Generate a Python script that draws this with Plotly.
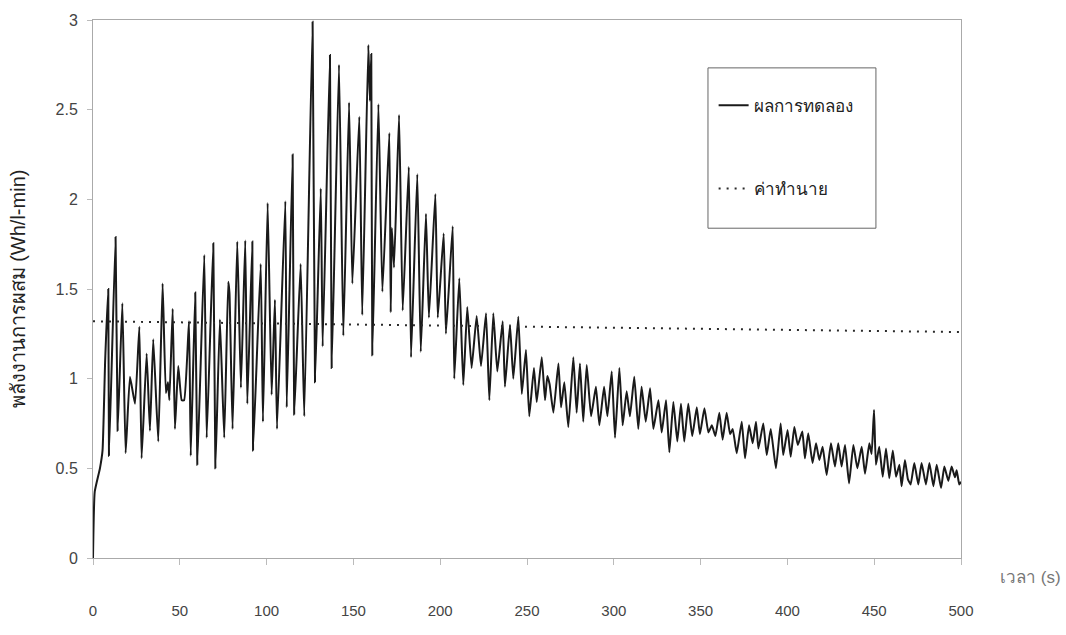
import plotly.graph_objects as go

t_exp = [0, 1, 4, 5.5, 7, 8.8, 9.2, 13, 14.2, 16.9, 18.8, 21.3, 24.2, 26.7, 28.0, 30.9, 32.8, 34.7, 37.6,
         40.1, 42.0, 43.2, 44.0, 45.9, 47.2, 49.1, 51.1, 52.5, 55.3, 56.3, 58.9, 60.1, 64.1, 65.5, 69.3, 70.5,
         73.1, 75.6, 77.9, 78.6, 80.4, 83.1, 85.2, 87.7, 88.9, 91.8, 92.2, 96.6, 97.9, 100.6, 102.9, 104.8,
         106.0, 110.8, 111.6, 115.0, 115.9, 119.6, 121.7, 126.5, 127.9, 131.2, 132.3, 136.5, 137.5, 141.7,
         144.2, 147.5, 149.4, 153.4, 155.1, 158.6, 159.5, 160.3, 160.9, 164.4, 166.7, 170.7, 171.5, 172.1,
         173.4, 176.3, 178.4, 181.9, 183.2, 186.8, 188.8, 191.8, 193.5, 197.2, 198.6, 202.0, 203.3, 207.2,
         208.1, 211.0, 213.3, 215.6, 218.1, 221.0, 223.5, 226.4, 228.3, 230.6, 232.9, 236.0, 237.3, 240.2,
         242.1, 245.0, 247.0, 249.4, 251.3, 254.0, 255.6, 258.5, 260.4, 261.7, 263.0, 265.2, 268.1, 269.6,
         271.5, 273.8, 276.7, 278.6, 280.5, 282.4, 284.4, 286.9, 289.7, 291.7, 294.4, 296.3, 298.8, 300.7,
         303.2, 305.1, 307.4, 309.3, 311.8, 314.1, 316.0, 318.4, 320.9, 322.8, 325.7, 327.6, 330.1, 332.0,
         334.3, 336.6, 338.7, 340.6, 342.9, 345.2, 347.8, 349.6, 352.2, 354.5, 356.5, 358.5, 360.8, 362.7,
         365.0, 367.0, 368.5, 370.8, 373.7, 375.6, 377.9, 380.0, 381.9, 383.3, 386.1, 388.1, 390.4, 393.4,
         396.1, 397.6, 400.1, 401.9, 404.0, 406.0, 408.6, 410.1, 412.0, 414.5, 416.5, 418.4, 420.3, 422.6,
         425.1, 427.4, 429.3, 431.2, 433.2, 435.5, 438.0, 440.3, 442.8, 444.7, 447.2, 448.5, 449.9, 451.0,
         452.9, 454.9, 456.8, 458.7, 460.7, 462.6, 464.5, 465.8, 467.7, 469.4, 471.0, 473.1, 475.4, 477.3,
         479.8, 481.8, 484.1, 486.0, 488.5, 490.4, 492.7, 494.6, 496.5, 497.5, 499.0, 500.0]
v_exp = [0, 0.37, 0.50, 0.60, 1.10, 1.50, 0.57, 1.79, 0.71, 1.42, 0.585, 1.01, 0.86, 1.29, 0.556, 1.14, 0.71,
         1.22, 0.65, 1.53, 0.92, 0.98, 0.88, 1.39, 0.72, 1.07, 0.88, 0.88, 1.32, 0.57, 1.48, 0.52, 1.69, 0.67,
         1.755, 0.50, 1.33, 0.67, 1.54, 1.48, 0.72, 1.765, 0.95, 1.77, 0.86, 1.765, 0.60, 1.64, 0.76, 1.98,
         0.91, 1.44, 0.72, 1.99, 0.84, 2.25, 0.80, 1.64, 0.79, 2.99, 0.98, 2.06, 1.18, 2.805, 1.06, 2.75, 1.24,
         2.54, 1.53, 2.46, 1.355, 2.86, 2.55, 2.81, 1.13, 2.53, 1.485, 2.37, 1.37, 1.84, 1.62, 2.47, 1.38,
         2.18, 1.12, 2.14, 1.15, 1.92, 1.34, 2.03, 1.34, 1.81, 1.25, 1.85, 1.00, 1.56, 0.965, 1.40, 1.06,
         1.35, 1.07, 1.365, 0.88, 1.365, 1.04, 1.32, 0.955, 1.30, 1.00, 1.345, 0.915, 1.16, 0.79, 1.06, 0.87,
         1.12, 0.88, 1.015, 0.97, 0.81, 1.085, 0.84, 0.98, 0.73, 1.12, 0.81, 1.085, 0.76, 1.076, 0.79, 0.955,
         0.74, 0.955, 0.79, 1.04, 0.67, 1.06, 0.74, 0.93, 0.79, 1.01, 0.72, 0.955, 0.76, 0.946, 0.72, 0.88,
         0.70, 0.88, 0.59, 0.87, 0.65, 0.86, 0.65, 0.86, 0.68, 0.84, 0.69, 0.835, 0.70, 0.74, 0.68, 0.81,
         0.66, 0.81, 0.69, 0.72, 0.584, 0.76, 0.556, 0.74, 0.64, 0.76, 0.61, 0.75, 0.574, 0.72, 0.50, 0.75,
         0.574, 0.714, 0.565, 0.73, 0.63, 0.705, 0.556, 0.695, 0.53, 0.64, 0.547, 0.62, 0.463, 0.64, 0.51,
         0.64, 0.51, 0.63, 0.416, 0.63, 0.50, 0.62, 0.47, 0.64, 0.58, 0.825, 0.52, 0.62, 0.453, 0.61, 0.445,
         0.60, 0.453, 0.52, 0.40, 0.547, 0.44, 0.41, 0.53, 0.41, 0.53, 0.41, 0.53, 0.40, 0.52, 0.39, 0.51,
         0.43, 0.51, 0.45, 0.49, 0.41, 0.425]

# Predicted value
t_pred = [0, 500]
v_pred = [1.32, 1.26]

x_ticks = [0, 50, 100, 150, 200, 250, 300, 350, 400, 450, 500]
y_ticks = [0, 0.5, 1, 1.5, 2, 2.5, 3]

FONT = "Liberation Sans, Arial, sans-serif"

fig = go.Figure()
fig.add_trace(go.Scatter(x=t_exp, y=v_exp, mode="lines", name="ผลการทดลอง",
                         legendgroup="a",
                         line=dict(color="#1a1a1a", width=2, shape="spline", smoothing=0.4)))
fig.add_trace(go.Scatter(x=t_pred, y=v_pred, mode="lines", name="ค่าทำนาย",
                         legendgroup="b",
                         line=dict(color="#2a2a2a", width=2, dash="2px,6px")))

fig.update_layout(
    width=1066, height=635,
    margin=dict(l=93, r=105, t=20, b=77),
    paper_bgcolor="white", plot_bgcolor="white",
    font=dict(family=FONT, size=14, color="#444"),
    showlegend=True,
    legend=dict(x=0.715, y=0.874, xanchor="left", yanchor="top",
                bgcolor="rgba(0,0,0,0)", borderwidth=0,
                tracegroupgap=58, font=dict(size=17, color="#222")),
    xaxis=dict(range=[0, 500], tickvals=x_ticks, ticktext=[str(v) for v in x_ticks],
               showgrid=False, zeroline=False, showline=True, linecolor="#aaa",
               linewidth=1, mirror=True, ticks="outside", ticklen=6, tickcolor="#bbb",
               ticklabelstandoff=33, tickfont=dict(size=15, color="#444")),
    yaxis=dict(range=[0, 3], tickvals=y_ticks, ticktext=["0", "0.5", "1", "1.5", "2", "2.5", "3"],
               showgrid=False, zeroline=False, showline=True, linecolor="#aaa",
               linewidth=1, mirror=True, ticks="outside", ticklen=5, tickcolor="#bbb",
               ticklabelstandoff=6, tickfont=dict(size=16, color="#444")),
    shapes=[dict(type="rect", xref="paper", yref="paper",
                 x0=0.7085, x1=0.902, y0=0.613, y1=0.911,
                 line=dict(color="#666", width=1), fillcolor="rgba(0,0,0,0)")],
    annotations=[
        dict(text="พลังงานการผสม (Wh/l-min)", xref="paper", yref="paper",
             x=-0.086, y=0.50, xanchor="center", yanchor="middle",
             textangle=-90, showarrow=False,
             font=dict(size=20, color="#222")),
        dict(text="เวลา (s)", xref="paper", yref="paper",
             x=1.0795, y=-0.037, xanchor="center", yanchor="middle", showarrow=False,
             font=dict(size=17, color="#777")),
    ],
)

fig.write_html("out.html")
